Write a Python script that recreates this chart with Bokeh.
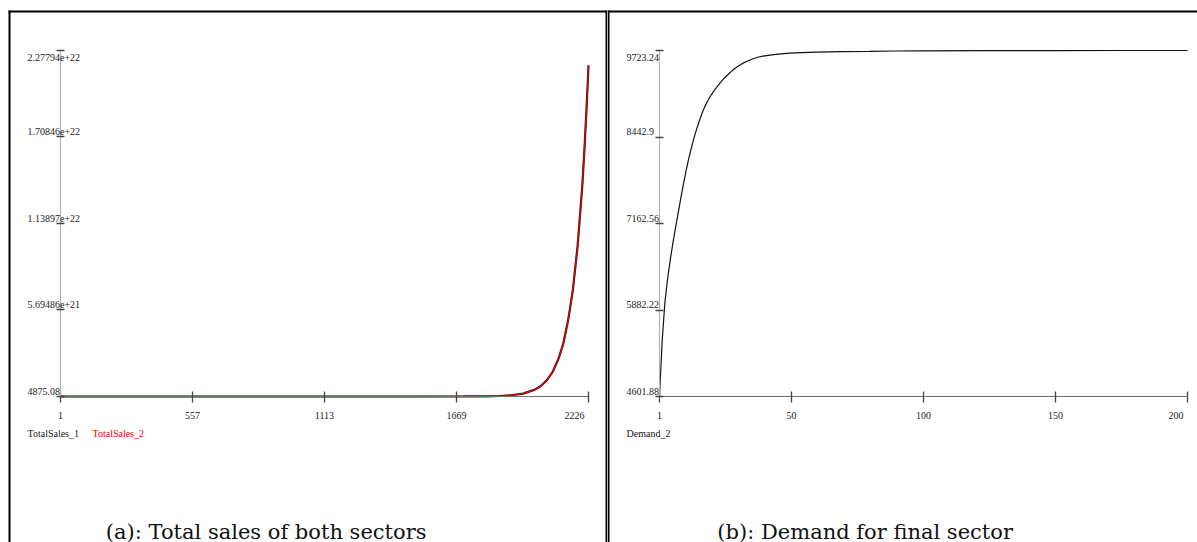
from bokeh.plotting import figure
from bokeh.models import (Range1d, LinearAxis, FixedTicker, LabelSet, Label,
                          ColumnDataSource, BoxAnnotation)
from bokeh.layouts import row
from bokeh.embed import file_html
from bokeh.resources import INLINE
from bokeh.core.properties import value, field

# ---------------- data ----------------
sales_t = [1, 500, 1000, 1500, 1700, 1800, 1850, 1900, 1950, 2000, 2025, 2050,
           2075, 2100, 2120, 2140, 2160, 2180, 2200, 2210, 2220, 2226]
total_sales_1 = [4875.08, 3e9, 1.4e13, 7e16, 2.5e18, 1.4e19, 3.4e19, 8.0e19, 1.9e20,
                 4.5e20, 6.9e20, 1.06e21, 1.62e21, 2.5e21, 3.5e21, 5.0e21, 7.0e21,
                 9.9e21, 1.39e22, 1.66e22, 1.97e22, 2.18e22]
total_sales_2 = [4875.08, 3e9, 1.4e13, 7e16, 2.5e18, 1.4e19, 3.4e19, 8.0e19, 1.9e20,
                 4.5e20, 6.9e20, 1.06e21, 1.62e21, 2.5e21, 3.5e21, 5.0e21, 7.0e21,
                 9.9e21, 1.39e22, 1.66e22, 1.97e22, 2.18e22]
sales_series_names = ["TotalSales_1", "TotalSales_2"]
sales_xticks = [1, 557.25, 1113.5, 1669.75, 2226]
sales_xtick_labels = ["1", "557", "1113", "1669", "2226"]
sales_yticks = [4875.08, 5.69486e21, 1.13897e22, 1.70846e22, 2.27794e22]
sales_ytick_labels = ["4875.08", "5.69486e+21", "1.13897e+22", "1.70846e+22", "2.27794e+22"]
sales_caption = "(a):  Total sales of both sectors"

demand_t = list(range(1, 31)) + [32, 34, 36, 38, 40, 44, 50, 60, 70, 80, 90, 100,
                                 125, 150, 175, 200]
demand_2 = [4601.88, 5420, 5980, 6330, 6610, 6860, 7090, 7310, 7530, 7740,
            7940, 8120, 8280, 8430, 8560, 8680, 8790, 8885, 8965, 9035,
            9095, 9150, 9200, 9250, 9295, 9335, 9375, 9410, 9445, 9475,
            9525, 9565, 9598, 9623, 9640, 9663, 9685, 9700, 9706, 9710, 9716, 9718,
            9720, 9722, 9723, 9723.24]
demand_series_names = ["Demand_2"]
demand_xticks = [1, 50.75, 100.5, 150.25, 200]
demand_xtick_labels = ["1", "50", "100", "150", "200"]
demand_yticks = [4601.88, 5882.22, 7162.56, 8442.90, 9723.24]
demand_ytick_labels = ["4601.88", "5882.22", "7162.56", "8442.9", "9723.24"]
demand_caption = "(b):  Demand for final sector"

# ---------------- layout / style ----------------
H = 542
TICK_FONT = "Liberation Serif"
CAP_FONT = "DejaVu Serif"
AX_T, AX_B = 50, 396          # data box top / bottom (px)
PLOT_W = 528                  # data box width (px)


def make_panel(width, ax_l, xs, ys_list, colors, widths, names, xticks, xlabels,
               yticks, ylabels, caption, left_border):
    ax_r = ax_l + PLOT_W
    xlo, xhi = xticks[0], xticks[-1]
    ylo, yhi = yticks[0], yticks[-1]
    sx = (xhi - xlo) / (ax_r - ax_l)
    sy = (yhi - ylo) / (AX_B - AX_T)
    xr = Range1d(xlo - ax_l * sx, xhi + (width - ax_r) * sx)
    yr = Range1d(ylo - (H - AX_B) * sy, yhi + AX_T * sy)

    def px_x(px):
        return xr.start + px * sx

    def px_y(py):
        return yr.end - py * sy

    p = figure(width=width, height=H, x_range=xr, y_range=yr,
               output_backend="svg", toolbar_location=None,
               x_axis_type=None, y_axis_type=None, min_border=0)
    p.min_border_left = p.min_border_right = 0
    p.min_border_top = p.min_border_bottom = 0
    p.outline_line_color = None
    p.background_fill_color = "white"
    p.border_fill_color = "white"

    yaxis = LinearAxis(fixed_location=xlo, bounds=(ylo, yhi),
                       ticker=FixedTicker(ticks=yticks),
                       axis_line_color="#b4b4b4", axis_line_width=1.2,
                       major_tick_line_color="#444444", major_tick_line_width=1.3,
                       major_tick_in=4, major_tick_out=4,
                       minor_tick_line_color=None, major_label_text_color=None)
    p.add_layout(yaxis, "left")
    xaxis = LinearAxis(fixed_location=ylo, bounds=(xlo, xhi),
                       ticker=FixedTicker(ticks=xticks),
                       axis_line_color="#707070", axis_line_width=1.2,
                       major_tick_line_color="#444444", major_tick_line_width=1.3,
                       major_tick_in=5, major_tick_out=6,
                       minor_tick_line_color=None, major_label_text_color=None)
    p.add_layout(xaxis, "below")

    for ys, c, w in zip(ys_list, colors, widths):
        p.line(xs, ys, line_color=c, line_width=w)

    n = len(xticks)
    xsrc = ColumnDataSource(dict(x=xticks, y=[ylo] * n, text=xlabels,
                                 align=["center"] * (n - 1) + ["right"],
                                 dx=[0] * (n - 1) + [-4]))
    p.add_layout(LabelSet(x="x", y="y", text="text", source=xsrc,
                          text_align=field("align"), x_offset=field("dx"),
                          y_offset=-22, text_baseline="alphabetic",
                          text_font=value(TICK_FONT), text_font_size=value("10px"),
                          text_color="#222222"))
    m = len(yticks)
    ysrc = ColumnDataSource(dict(x=[xlo] * m, y=yticks, text=ylabels,
                                 dy=[2] * (m - 1) + [-10]))
    p.add_layout(LabelSet(x="x", y="y", text="text", source=ysrc,
                          text_align="left", x_offset=-33, y_offset=field("dy"),
                          text_baseline="alphabetic",
                          text_font=value(TICK_FONT), text_font_size=value("10px"),
                          text_color="#222222"))

    k = len(names)
    leg_dx = [-33 + 65 * i for i in range(k)]
    lsrc = ColumnDataSource(dict(x=[xlo] * k, y=[ylo] * k, text=names,
                                 color=colors, dx=leg_dx))
    p.add_layout(LabelSet(x="x", y="y", text="text", source=lsrc,
                          text_align="left", x_offset=field("dx"), y_offset=-40,
                          text_baseline="alphabetic", text_color=field("color"),
                          text_font=value(TICK_FONT), text_font_size=value("10px")))

    p.add_layout(Label(x=xlo, y=ylo, x_offset=209, y_offset=-135, text=caption,
                       text_align="center", text_baseline="alphabetic",
                       text_font=CAP_FONT, text_font_size="21px",
                       text_color="#111111"))

    # panel borders (black table rules)
    border = dict(fill_color="black", fill_alpha=1.0, line_color=None)
    if left_border:
        p.add_layout(BoxAnnotation(left=px_x(8), right=px_x(10), top=px_y(10),
                                   bottom=yr.start, **border))
        p.add_layout(BoxAnnotation(left=px_x(8), right=xr.end, top=px_y(10),
                                   bottom=px_y(12), **border))
        p.add_layout(BoxAnnotation(left=px_x(width - 2), right=xr.end, top=px_y(10),
                                   bottom=yr.start, **border))
    else:
        p.add_layout(BoxAnnotation(left=xr.start, right=xr.end, top=px_y(10),
                                   bottom=px_y(12), **border))
        p.add_layout(BoxAnnotation(left=xr.start, right=px_x(2), top=px_y(10),
                                   bottom=yr.start, **border))
    return p


pa = make_panel(607, 60, sales_t, [total_sales_1, total_sales_2],
                ["#222222", "#dd0000"], [2.2, 1.3], sales_series_names,
                sales_xticks, sales_xtick_labels, sales_yticks, sales_ytick_labels,
                sales_caption, left_border=True)
pb = make_panel(590, 52, demand_t, [demand_2], ["#111111"], [1.2],
                demand_series_names, demand_xticks, demand_xtick_labels,
                demand_yticks, demand_ytick_labels, demand_caption, left_border=False)

layout = row(pa, pb)
open("out.html", "w").write(file_html(layout, INLINE))
